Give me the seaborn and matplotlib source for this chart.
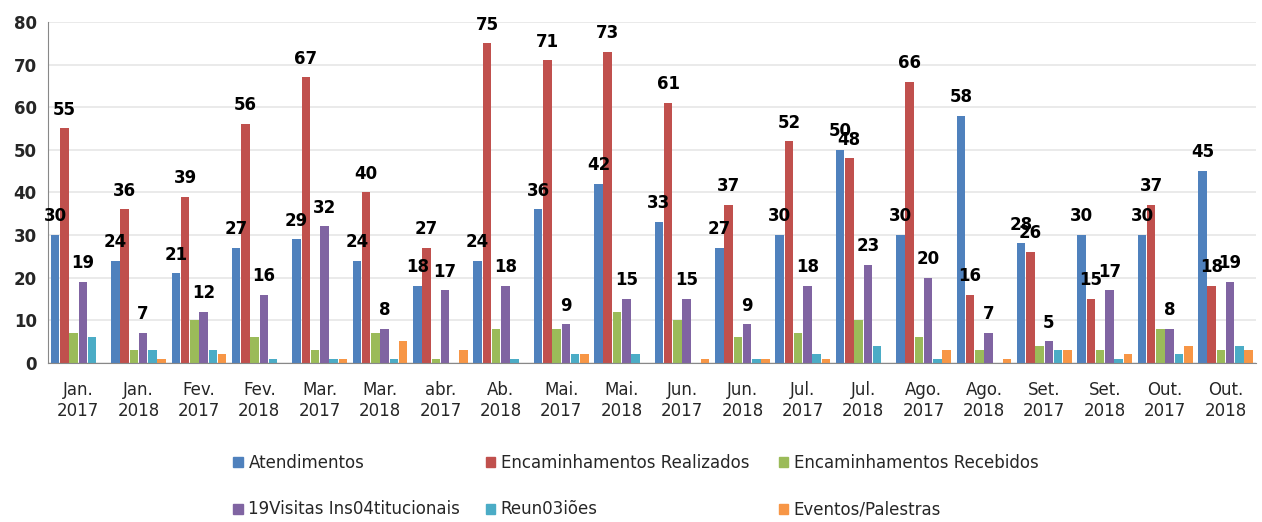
import numpy as np
import pandas as pd
import matplotlib
matplotlib.use("Agg")
import matplotlib.pyplot as plt
import seaborn as sns

# dados do gráfico
meses = ["Jan.\n2017", "Jan.\n2018", "Fev.\n2017", "Fev.\n2018", "Mar.\n2017",
         "Mar.\n2018", "abr.\n2017", "Ab.\n2018", "Mai.\n2017", "Mai.\n2018",
         "Jun.\n2017", "Jun.\n2018", "Jul.\n2017", "Jul.\n2018", "Ago.\n2017",
         "Ago.\n2018", "Set.\n2017", "Set.\n2018", "Out.\n2017", "Out.\n2018"]
atendimentos = [30, 24, 21, 27, 29, 24, 18, 24, 36, 42, 33, 27, 30, 50, 30, 58, 28, 30, 30, 45]
enc_realizados = [55, 36, 39, 56, 67, 40, 27, 75, 71, 73, 61, 37, 52, 48, 66, 16, 26, 15, 37, 18]
enc_recebidos = [7, 3, 10, 6, 3, 7, 1, 8, 8, 12, 10, 6, 7, 10, 6, 3, 4, 3, 8, 3]
visitas = [19, 7, 12, 16, 32, 8, 17, 18, 9, 15, 15, 9, 18, 23, 20, 7, 5, 17, 8, 19]
reunioes = [6, 3, 3, 1, 1, 1, 0, 1, 2, 2, 0, 1, 2, 4, 1, 0, 3, 1, 2, 4]
eventos = [0, 1, 2, 0, 1, 5, 3, 0, 2, 0, 1, 1, 1, 0, 3, 1, 3, 2, 4, 3]

series = ["Atendimentos", "Encaminhamentos Realizados", "Encaminhamentos Recebidos",
          "19Visitas Ins04titucionais", "Reun03iões", "Eventos/Palestras"]
valores = [atendimentos, enc_realizados, enc_recebidos, visitas, reunioes, eventos]
cores = ["#4F81BD", "#C0504D", "#9BBB59", "#8064A2", "#4BACC6", "#F79646"]
com_rotulo = [0, 1, 3]

df = pd.DataFrame({
    "mes": np.tile(meses, len(series)),
    "serie": np.repeat(series, len(meses)),
    "valor": np.concatenate(valores),
})

sns.set_style("white")
plt.rcParams["font.family"] = ["DejaVu Sans"]

fig, ax = plt.subplots(figsize=(12.62, 5.22), dpi=100)
fig.subplots_adjust(left=0.038, right=0.995, top=0.958, bottom=0.305)

sns.barplot(data=df, x="mes", y="valor", hue="serie", hue_order=series,
            order=meses, palette=cores, width=0.92, gap=0.08, saturation=1,
            edgecolor="none", ax=ax, legend=False)

# rótulos de dados
for i in com_rotulo:
    ax.bar_label(ax.containers[i], fmt="%d", padding=7, fontsize=12,
                 fontweight="bold", color="black")

ax.set_ylim(0, 80)
ax.set_yticks(range(0, 81, 10))
ax.set_xlim(-0.5, len(meses) - 0.5)
ax.yaxis.grid(True, color="#E6E6E6", linewidth=1.2)
ax.set_axisbelow(True)
ax.set_xlabel("")
ax.set_ylabel("")

for lado in ["top", "right"]:
    ax.spines[lado].set_visible(False)
ax.spines["left"].set_color("#888888")
ax.spines["bottom"].set_color("#888888")

ax.tick_params(axis="y", labelsize=12, length=5, color="#888888", direction="out", pad=3)
for t in ax.get_yticklabels():
    t.set_fontweight("bold")
ax.tick_params(axis="x", which="major", length=0, labelsize=12, pad=13)
ax.set_xticks(np.arange(-0.5, len(meses), 1), minor=True)
ax.tick_params(axis="x", which="minor", length=7, color="#888888")

# legenda em três colunas, como no original
handles = [plt.Rectangle((0, 0), 1, 1, color=c) for c in cores]
posicoes_x = [0.185, 0.385, 0.617]
for col, x0 in enumerate(posicoes_x):
    idx = [col, col + 3]
    fig.legend([handles[i] for i in idx], [series[i] for i in idx],
               loc="upper left", bbox_to_anchor=(x0, 0.13), ncol=1,
               frameon=False, fontsize=12, handlelength=0.55, handleheight=0.55,
               handletextpad=0.35, labelspacing=1.7, borderaxespad=0, borderpad=0)

plt.savefig("out.png", dpi=100)
